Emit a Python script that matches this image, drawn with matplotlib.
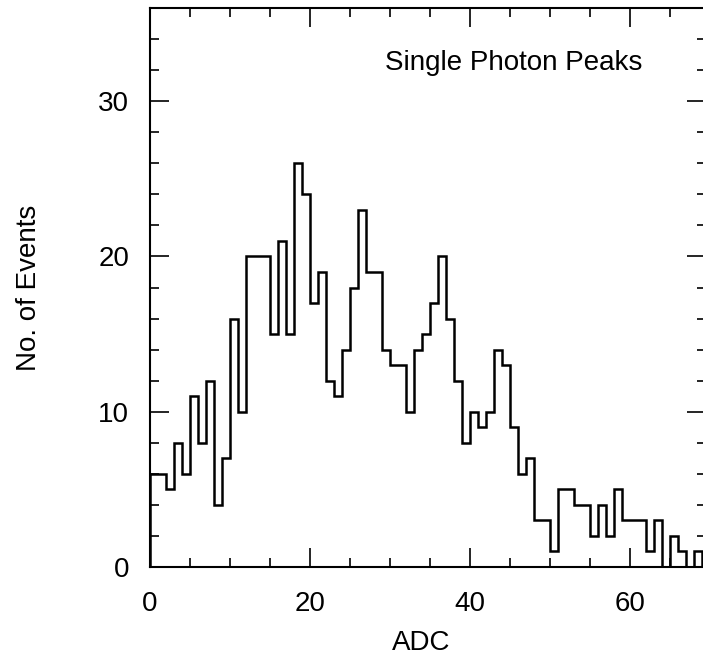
import matplotlib.pyplot as plt
import numpy as np
from matplotlib.ticker import MultipleLocator

plt.rcParams['font.family'] = ['Liberation Sans', 'DejaVu Sans']

# histogram contents, one ADC channel per bin
adc_edges = np.arange(0, 70)
counts = [6, 6, 5, 8, 6, 11, 8, 12, 4, 7,
          16, 10, 20, 20, 20, 15, 21, 15, 26, 24,
          17, 19, 12, 11, 14, 18, 23, 19, 19, 14,
          13, 13, 10, 14, 15, 17, 20, 16, 12, 8,
          10, 9, 10, 14, 13, 9, 6, 7, 3, 3,
          1, 5, 5, 4, 4, 2, 4, 2, 5, 3,
          3, 3, 1, 3, 0, 2, 1, 0, 1]

x_ticks = [0, 20, 40, 60]
y_ticks = [0, 10, 20, 30]

fig = plt.figure(figsize=(7.03, 6.63), dpi=100)
# right edge of the frame sits just outside the picture, as in the scan
ax = fig.add_axes([150 / 703, 1 - 567 / 663, 556 / 703, 559 / 663])

ax.stairs(counts, adc_edges, color='black', linewidth=1.8)

ax.set_xlim(0, 69.5)
ax.set_ylim(0, 36)
ax.set_xticks(x_ticks)
ax.set_yticks(y_ticks)
ax.xaxis.set_minor_locator(MultipleLocator(5))
ax.yaxis.set_minor_locator(MultipleLocator(2))

ax.tick_params(which='both', direction='in', top=True, right=True, labelsize=20, width=1.2)
ax.tick_params(which='major', length=14)
ax.tick_params(which='minor', length=6.5)
ax.tick_params(axis='x', pad=17)
ax.tick_params(axis='y', pad=15)
for s in ax.spines.values():
    s.set_linewidth(1.5)

ax.set_xlabel('ADC', fontsize=20)
ax.set_ylabel('No. of Events', fontsize=20)
ax.xaxis.set_label_coords(0.487, -0.112)
ax.yaxis.set_label_coords(-0.195, 0.5)

ax.text(29.4, 32, 'Single Photon Peaks', fontsize=20, va='baseline')

fig.savefig('out.png', dpi=100)
